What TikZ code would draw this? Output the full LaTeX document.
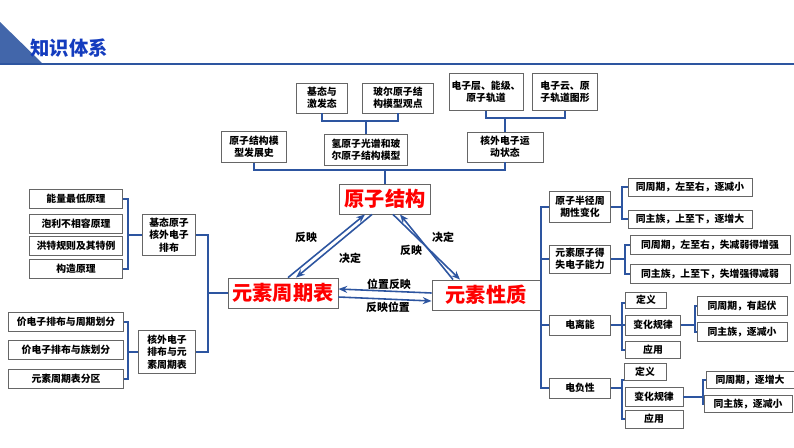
\documentclass[tikz,border=0pt]{standalone}
\usepackage{fontspec}
\setmainfont{Noto Sans CJK SC}
\usetikzlibrary{arrows.meta}
\newcommand\px{0.02cm}
\definecolor{brblue}{RGB}{45,85,160}
\definecolor{titleblue}{RGB}{20,60,190}
\begin{document}
\begin{tikzpicture}[x=0.02cm,y=-0.02cm,
  box/.style={draw=black!60,fill=white,line width=0.5pt,align=center,inner sep=1pt,
    font=\fontsize{5.6}{7}\selectfont\bfseries,minimum height=19*\px},
  bigbox/.style={draw=black!60,fill=white,line width=0.5pt,inner sep=1pt,text=red,
    font=\fontsize{11.5}{13}\selectfont\bfseries,minimum height=30*\px},
  br/.style={draw=brblue,line width=1.1pt},
  link/.style={draw=brblue,line width=0.9pt,-{Stealth[length=5pt,width=4pt,open]}},
  lab/.style={font=\fontsize{6.2}{7}\selectfont\bfseries}]
\useasboundingbox (0,0) rectangle (794,447);
% header
\fill[brblue!90] (0,22) -- (42,63) -- (0,63) -- cycle;
\draw[brblue,line width=0.8pt] (0,64) -- (794,64);
\node[text=titleblue,font=\fontsize{11}{13}\selectfont\bfseries] (title) at (69,48) {知识体系};
% center
\node[bigbox,minimum width=91*\px] (yz) at (385,199) {原子结构};
\node[bigbox,minimum width=110*\px] (zq) at (283,293) {元素周期表};
\node[bigbox,minimum width=108*\px] (xz) at (486,295) {元素性质};
% top
\node[box,minimum width=51*\px,minimum height=30*\px] (t1) at (322,98) {基态与\\激发态};
\node[box,minimum width=71*\px,minimum height=30*\px] (t2) at (398,98) {玻尔原子结\\构模型观点};
\node[box,minimum width=74*\px,minimum height=37*\px] (t3) at (486,92) {电子层、能级、\\原子轨道};
\node[box,minimum width=65*\px,minimum height=37*\px] (t4) at (565,92) {电子云、原\\子轨道图形};
\node[box,minimum width=83*\px,minimum height=31*\px] (m2) at (366,150) {氢原子光谱和玻\\尔原子结构模型};
\node[box,minimum width=76*\px,minimum height=30*\px] (m3) at (505,147) {核外电子运\\动状态};
\node[box,minimum width=65*\px,minimum height=31*\px] (m1) at (254,147) {原子结构模\\型发展史};
\draw[br] (t1.south) |- (m2.north |- 0,121) -| (t2.south);
\draw[br] (m2.north) -- (m2.north |- 0,121);
\draw[br] (t3.south) |- (m3.north |- 0,118) -| (t4.south);
\draw[br] (m3.north) -- (m3.north |- 0,118);
\draw[br] (m1.south) |- (yz.north |- 0,170) -| (m3.south);
\draw[br] (yz.north) -- (yz.north |- 0,170);
% links
\draw[link] ([xshift=5*\px]zq.north) -- ([xshift=-20*\px]yz.south);
\draw[link] ([xshift=-13*\px]yz.south) -- ([xshift=13*\px]zq.north);
\draw[link] ([xshift=8*\px]yz.south) -- ([xshift=-26*\px]xz.north);
\draw[link] ([xshift=-33*\px]xz.north) -- ([xshift=15*\px]yz.south);
\draw[link] ([yshift=-4*\px]zq.east) -- ([yshift=-6*\px]xz.west);
\draw[link] ([yshift=2*\px]xz.west) -- ([yshift=4*\px]zq.east);
\node[lab] (l1) at (306,237) {反映};
\node[lab] (l2) at (350,258) {决定};
\node[lab] (l3) at (443,237) {决定};
\node[lab] (l4) at (411,250) {反映};
\node[lab] (l5) at (389,284) {位置反映};
\node[lab] (l6) at (388,307) {反映位置};
% left
\node[box,minimum width=93*\px] (a1) at (76,199) {能量最低原理};
\node[box,minimum width=93*\px] (a2) at (76,224) {泡利不相容原理};
\node[box,minimum width=93*\px] (a3) at (76,246) {洪特规则及其特例};
\node[box,minimum width=93*\px] (a4) at (76,269) {构造原理};
\node[box,minimum width=53*\px,minimum height=41*\px] (ga) at (169,235) {基态原子\\核外电子\\排布};
\node[box,minimum width=115*\px] (b1) at (66,322) {价电子排布与周期划分};
\node[box,minimum width=115*\px] (b2) at (66,350) {价电子排布与族划分};
\node[box,minimum width=115*\px] (b3) at (66,379) {元素周期表分区};
\node[box,minimum width=57*\px,minimum height=43*\px] (gb) at (167,352) {核外电子\\排布与元\\素周期表};
\draw[br] (a1.east) -| (128,0 |- a4.east) -- (a4.east);
\draw[br] (a1.east -| 128,0) |- (ga.west);
\draw[br] (b1.east) -| (128,0 |- b3.east) -- (b3.east);
\draw[br] (b1.east -| 128,0) |- (gb.west);
\draw[br] (ga.east) -| (208,0 |- gb.east) -- (gb.east);
\draw[br] (ga.east -| 208,0) |- (zq.west);
% right
\node[box,minimum width=61*\px,minimum height=31*\px] (r1) at (580,207) {原子半径周\\期性变化};
\node[box,minimum width=61*\px,minimum height=28*\px] (r2) at (580,259) {元素原子得\\失电子能力};
\node[box,minimum width=61*\px,minimum height=20*\px] (r3) at (580,325) {电离能};
\node[box,minimum width=61*\px,minimum height=20*\px] (r4) at (580,388) {电负性};
\draw[br] (r1.west) -| (541,0 |- r4.west) -- (r4.west);
\draw[br] (r2.west) -- (r2.west -| 541,0);
\draw[br] (r3.west) -- (r3.west -| 541,0);
\draw[br] (xz.east) -- (xz.east -| 541,0);
% radius
\node[box,minimum width=124*\px,minimum height=18*\px] (s1) at (690,187) {同周期，左至右，逐减小};
\node[box,minimum width=124*\px,minimum height=18*\px] (s2) at (690,219) {同主族，上至下，逐增大};
\draw[br] (s1.west) -| (622,0 |- s2.west) -- (s2.west);
\draw[br] (r1.east) -- (r1.east -| 622,0);
% gain/lose
\node[box,minimum width=160*\px,minimum height=19*\px] (u1) at (710,245) {同周期，左至右，失减弱得增强};
\node[box,minimum width=160*\px,minimum height=19*\px] (u2) at (710,274) {同主族，上至下，失增强得减弱};
\draw[br] (u1.west) -| (625,0 |- u2.west) -- (u2.west);
\draw[br] (r2.east) -- (r2.east -| 625,0);
% ionisation
\node[box,minimum width=41*\px,minimum height=16*\px] (v1) at (646,300) {定义};
\node[box,minimum width=55*\px,minimum height=20*\px] (v2) at (653,325) {变化规律};
\node[box,minimum width=55*\px,minimum height=17*\px] (v3) at (653,350) {应用};
\draw[br] ([yshift=-3*\px]v1.west) -| (622,0 |- v3.west) -- (v3.west);
\draw[br] (r3.east) -- (v2.west);
\node[box,minimum width=90*\px,minimum height=19*\px] (w1) at (742,306) {同周期，有起伏};
\node[box,minimum width=90*\px,minimum height=19*\px] (w2) at (742,332) {同主族，逐减小};
\draw[br] (w1.west) -| (695,0 |- w2.west) -- (w2.west);
\draw[br] (v2.east) -- (v2.east -| 695,0);
% electronegativity
\node[box,minimum width=42*\px,minimum height=17*\px] (x1) at (645,372) {定义};
\node[box,minimum width=58*\px,minimum height=19*\px] (x2) at (654,397) {变化规律};
\node[box,minimum width=58*\px,minimum height=18*\px] (x3) at (654,419) {应用};
\draw[br] ([yshift=-8*\px]x1.west) -| (622,0 |- x3.west) -- (x3.west);
\draw[br] (r4.east) -- (r4.east -| 622,0);
\node[box,minimum width=88*\px,minimum height=17*\px] (y1) at (750,380) {同周期，逐增大};
\node[box,minimum width=88*\px,minimum height=17*\px] (y2) at (748,404) {同主族，逐减小};
\draw[br] (y1.west) -| (703,0 |- y2.west) -- (y2.west);
\draw[br] (x2.east) -- (x2.east -| 703,0);
\end{tikzpicture}
\end{document}
